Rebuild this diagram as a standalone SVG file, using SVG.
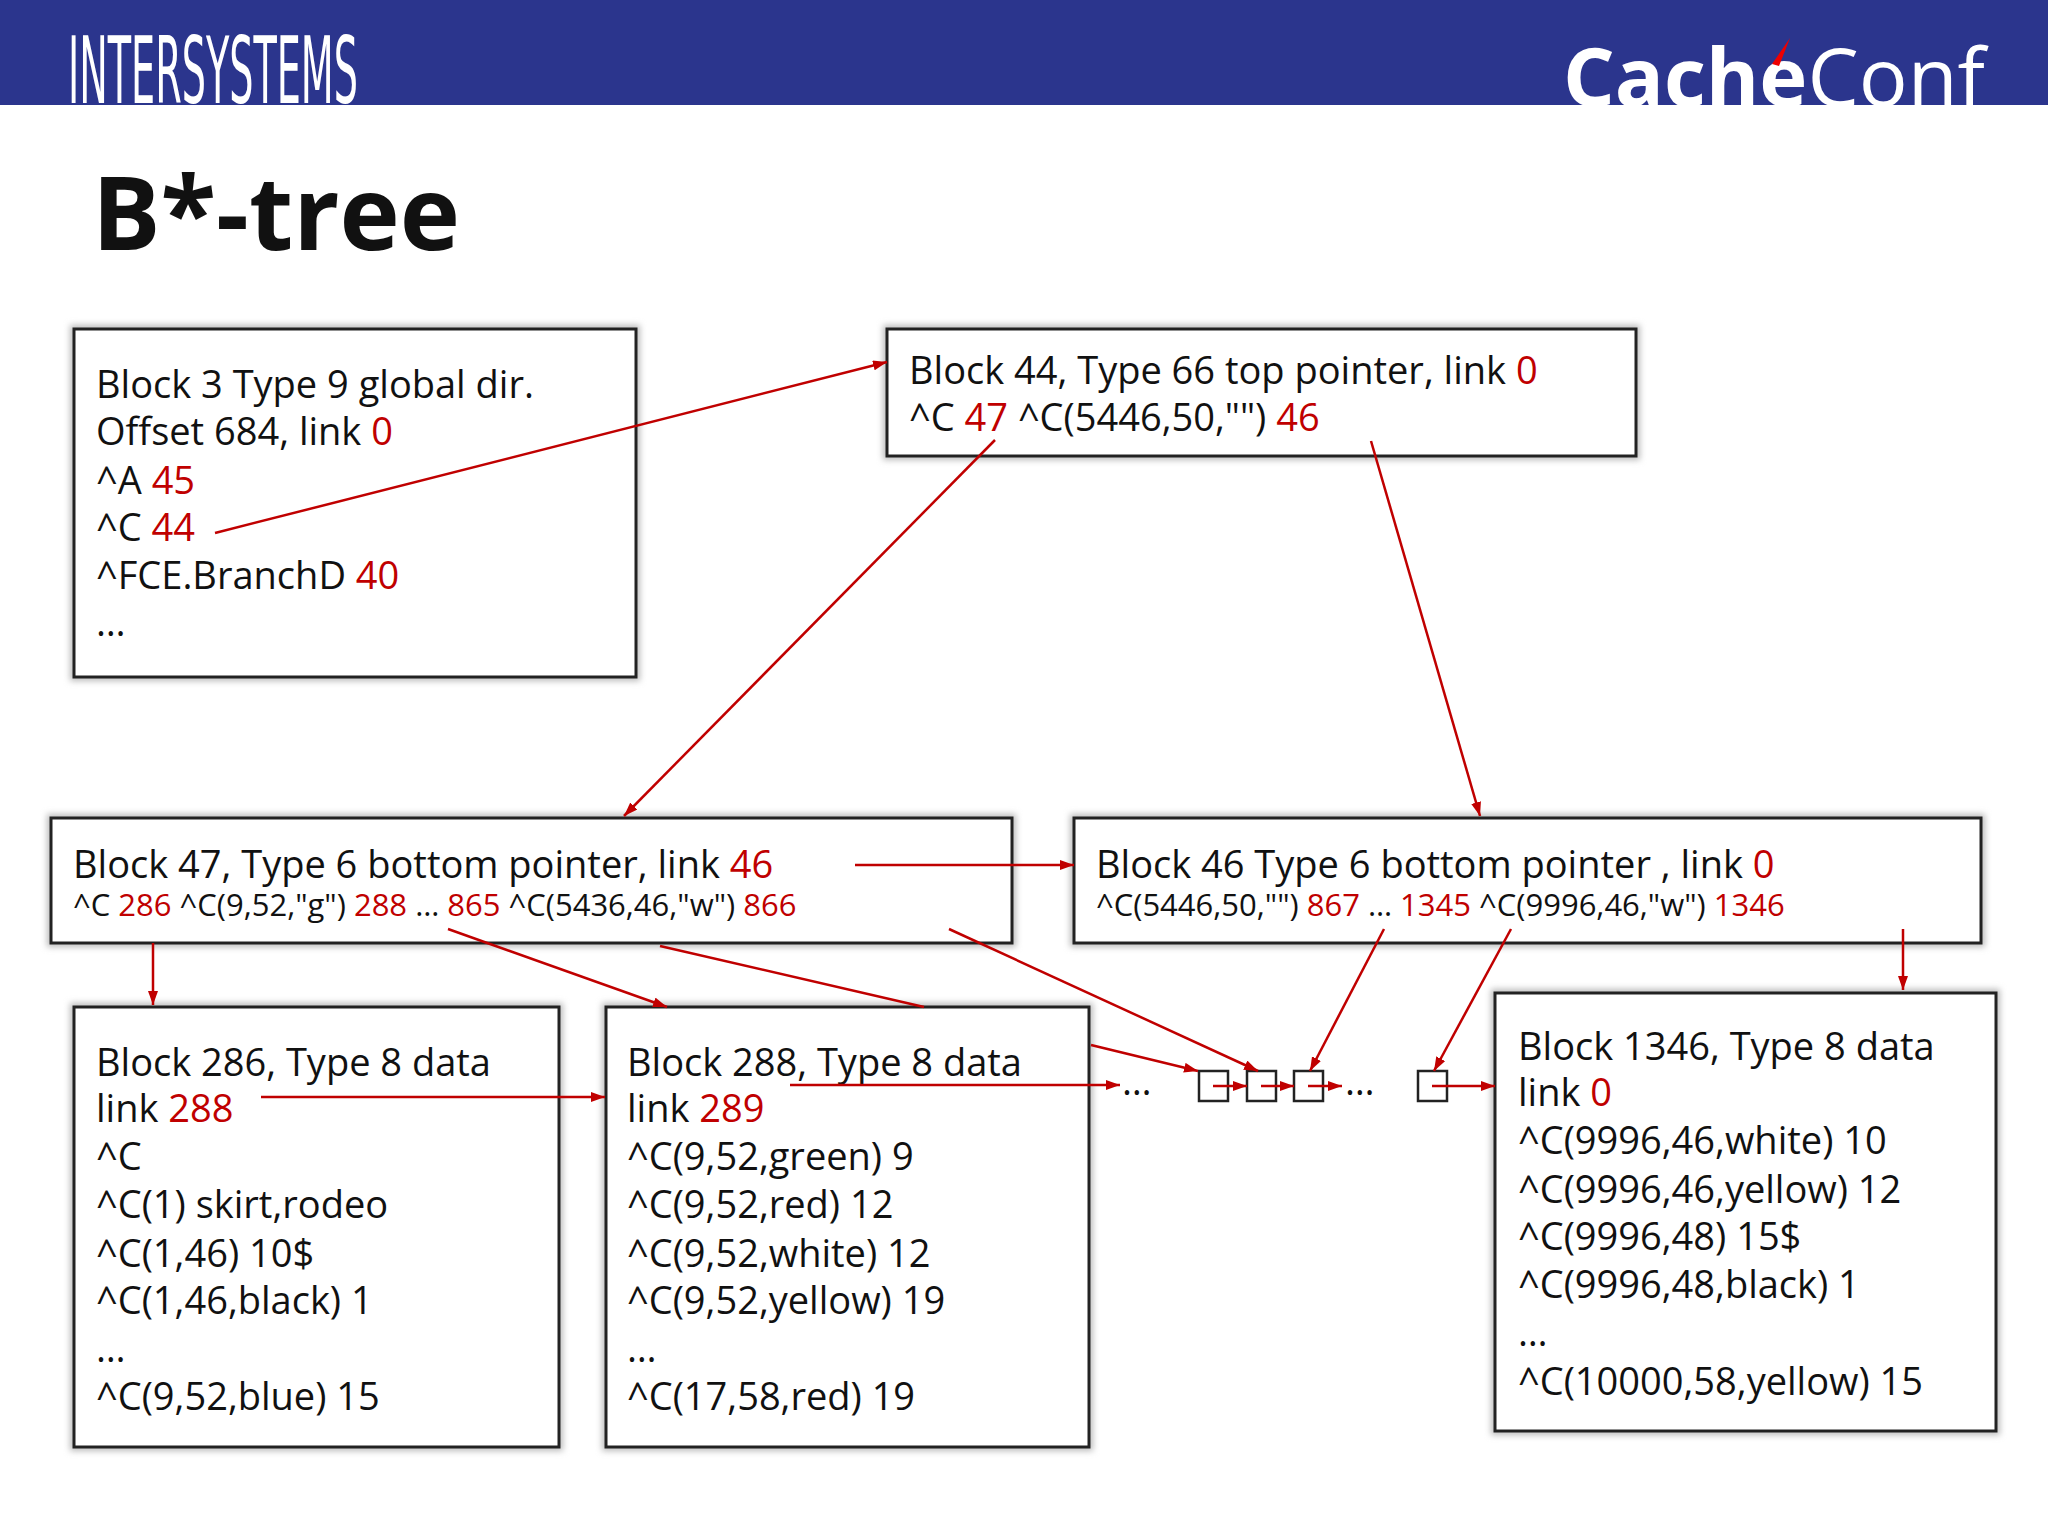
<svg xmlns="http://www.w3.org/2000/svg" width="2048" height="1536" viewBox="0 0 2048 1536">
<style>
.box{fill:#fff;stroke:#222;stroke-width:3}
.sh{fill:none;stroke:#bbb;stroke-width:8;filter:url(#blur)}
text{font-family:"Open Sans","Noto Sans",sans-serif;fill:#111}
.t{font-size:38px}
.s{font-size:31px}
.r{fill:#c00000}
.c{stroke:#c00000;stroke-width:2.5;fill:none}
.a{marker-end:url(#ah)}
.sq{fill:#fff;stroke:#222;stroke-width:2.5}
</style>
<defs>
<marker id="ah" viewBox="0 0 10 10" refX="10" refY="5" markerWidth="14" markerHeight="10" markerUnits="userSpaceOnUse" orient="auto" preserveAspectRatio="none"><path d="M0,0 L10,5 L0,10 z" fill="#c00000"/></marker>
<filter id="blur"><feGaussianBlur stdDeviation="3"/></filter>
</defs>
<rect width="2048" height="1536" fill="#fff"/>
<g id="header">
<rect x="0" y="0" width="2048" height="105" fill="#2b358d"/>
<text x="68" y="103" font-size="92" style="fill:#fff;font-family:'Liberation Sans Narrow','DejaVu Sans Condensed',sans-serif" textLength="290" lengthAdjust="spacingAndGlyphs">INTERSYSTEMS</text>
<text x="1563" y="106" style="fill:#fff;font-size:80px;font-family:'Open Sans',sans-serif" textLength="422" lengthAdjust="spacingAndGlyphs"><tspan font-weight="bold">Cache</tspan>Conf</text>
<path d="M1772,64 L1790,38 L1779,66 z" fill="#e00"/>
</g>
<text x="92" y="250" style="font-size:102px;font-weight:bold;font-family:'Open Sans',sans-serif">B*-tree</text>
<g id="n3"><rect class="sh" x="74" y="329" width="562" height="348"/><rect class="box" x="74" y="329" width="562" height="348"/>
<text class="t" x="96" y="398">Block 3 Type 9 global dir.</text>
<text class="t" x="96" y="445">Offset 684, link <tspan class="r">0</tspan></text>
<text class="t" x="96" y="494">^A <tspan class="r">45</tspan></text>
<text class="t" x="96" y="541">^C <tspan class="r">44</tspan></text>
<text class="t" x="96" y="589">^FCE.BranchD <tspan class="r">40</tspan></text>
<text class="t" x="96" y="636">…</text></g>
<g id="n44"><rect class="sh" x="887" y="329" width="749" height="127"/><rect class="box" x="887" y="329" width="749" height="127"/>
<text class="t" x="909" y="384">Block 44, Type 66 top pointer, link <tspan class="r">0</tspan></text>
<text class="t" x="909" y="431">^C <tspan class="r">47</tspan> ^C(5446,50,"") <tspan class="r">46</tspan></text></g>
<g id="n47"><rect class="sh" x="51" y="818" width="961" height="125"/><rect class="box" x="51" y="818" width="961" height="125"/>
<text class="t" x="73" y="878">Block 47, Type 6 bottom pointer, link <tspan class="r">46</tspan></text>
<text class="s" x="73" y="916">^C <tspan class="r">286</tspan> ^C(9,52,"g") <tspan class="r">288</tspan> … <tspan class="r">865</tspan> ^C(5436,46,"w") <tspan class="r">866</tspan></text></g>
<g id="n46"><rect class="sh" x="1074" y="818" width="907" height="125"/><rect class="box" x="1074" y="818" width="907" height="125"/>
<text class="t" x="1096" y="878">Block 46 Type 6 bottom pointer , link <tspan class="r">0</tspan></text>
<text class="s" x="1096" y="916">^C(5446,50,"") <tspan class="r">867</tspan> … <tspan class="r">1345</tspan> ^C(9996,46,"w") <tspan class="r">1346</tspan></text></g>
<g id="n286"><rect class="sh" x="74" y="1007" width="485" height="440"/><rect class="box" x="74" y="1007" width="485" height="440"/>
<text class="t" x="96" y="1076">Block 286, Type 8 data</text>
<text class="t" x="96" y="1122">link <tspan class="r">288</tspan></text>
<text class="t" x="96" y="1170">^C</text>
<text class="t" x="96" y="1218">^C(1) skirt,rodeo</text>
<text class="t" x="96" y="1267">^C(1,46) 10$</text>
<text class="t" x="96" y="1314">^C(1,46,black) 1</text>
<text class="t" x="96" y="1362">…</text>
<text class="t" x="96" y="1410">^C(9,52,blue) 15</text></g>
<g id="n288"><rect class="sh" x="606" y="1007" width="483" height="440"/><rect class="box" x="606" y="1007" width="483" height="440"/>
<text class="t" x="627" y="1076">Block 288, Type 8 data</text>
<text class="t" x="627" y="1122">link <tspan class="r">289</tspan></text>
<text class="t" x="627" y="1170">^C(9,52,green) 9</text>
<text class="t" x="627" y="1218">^C(9,52,red) 12</text>
<text class="t" x="627" y="1267">^C(9,52,white) 12</text>
<text class="t" x="627" y="1314">^C(9,52,yellow) 19</text>
<text class="t" x="627" y="1362">…</text>
<text class="t" x="627" y="1410">^C(17,58,red) 19</text></g>
<g id="n1346"><rect class="sh" x="1495" y="993" width="501" height="438"/><rect class="box" x="1495" y="993" width="501" height="438"/>
<text class="t" x="1518" y="1060">Block 1346, Type 8 data</text>
<text class="t" x="1518" y="1106">link <tspan class="r">0</tspan></text>
<text class="t" x="1518" y="1154">^C(9996,46,white) 10</text>
<text class="t" x="1518" y="1203">^C(9996,46,yellow) 12</text>
<text class="t" x="1518" y="1250">^C(9996,48) 15$</text>
<text class="t" x="1518" y="1298">^C(9996,48,black) 1</text>
<text class="t" x="1518" y="1346">…</text>
<text class="t" x="1518" y="1395">^C(10000,58,yellow) 15</text></g>
<g id="chain">
<rect class="sq" x="1199" y="1071" width="29" height="30"/>
<rect class="sq" x="1247" y="1071" width="29" height="30"/>
<rect class="sq" x="1294" y="1071" width="29" height="30"/>
<rect class="sq" x="1418" y="1071" width="29" height="30"/>
<text class="t" x="1345" y="1095">…</text>
<text class="t" x="1122" y="1095">…</text>
</g>
<g id="connectors">
<line class="c a" x1="215" y1="533" x2="887" y2="362"/>
<line class="c a" x1="995" y1="440" x2="624" y2="816"/>
<line class="c a" x1="1371" y1="441" x2="1480" y2="816"/>
<line class="c a" x1="855" y1="865" x2="1074" y2="865"/>
<line class="c a" x1="153" y1="943" x2="153" y2="1005"/>
<line class="c a" x1="448" y1="929" x2="667" y2="1007"/>
<line class="c" x1="660" y1="946" x2="924" y2="1007"/>
<line class="c a" x1="1091" y1="1045" x2="1198" y2="1071"/>
<line class="c a" x1="949" y1="929" x2="1258" y2="1071"/>
<line class="c a" x1="1384" y1="929" x2="1310" y2="1071"/>
<line class="c a" x1="1511" y1="929" x2="1434" y2="1071"/>
<line class="c a" x1="1903" y1="929" x2="1903" y2="990"/>
<line class="c a" x1="261" y1="1097" x2="605" y2="1097"/>
<line class="c a" x1="790" y1="1085" x2="1120" y2="1085"/>
<line class="c a" x1="1213" y1="1086" x2="1247" y2="1086"/>
<line class="c a" x1="1261" y1="1086" x2="1294" y2="1086"/>
<line class="c a" x1="1308" y1="1086" x2="1342" y2="1086"/>
<line class="c a" x1="1432" y1="1086" x2="1495" y2="1086"/>
</g>
</svg>
